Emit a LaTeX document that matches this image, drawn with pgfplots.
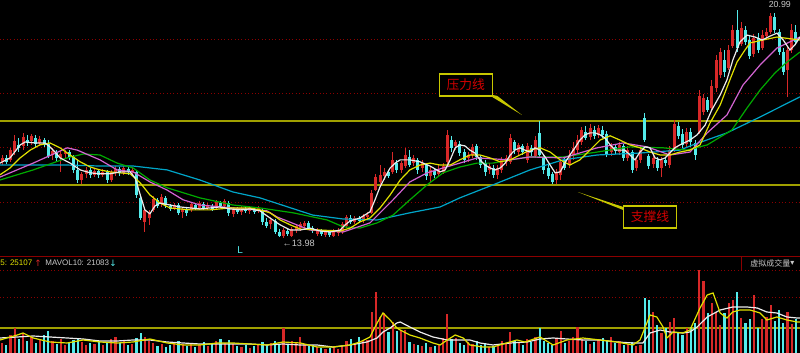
\documentclass[border=0pt]{standalone}
\usepackage{pgfplots}
\usepackage{pgfplotstable}
\pgfplotsset{compat=1.18}
\usepackage{fontspec}
\setmainfont{Liberation Sans}
\newfontfamily\cjk{Noto Sans CJK SC}
\newfontfamily\djv{DejaVu Sans}
\definecolor{kred}{RGB}{215,40,40}
\definecolor{kcyan}{RGB}{84,235,235}
\definecolor{gridred}{RGB}{140,0,0}
\definecolor{lineyel}{RGB}{160,160,0}
\definecolor{ma5}{RGB}{235,235,235}
\definecolor{ma10}{RGB}{225,225,0}
\definecolor{ma20}{RGB}{210,100,210}
\definecolor{ma30}{RGB}{0,170,0}
\definecolor{ma60}{RGB}{0,165,200}
\definecolor{boxyel}{RGB}{200,200,0}
\definecolor{txtred}{RGB}{210,0,0}
\definecolor{txtgray}{RGB}{200,200,200}

\pgfplotstableread{
i o h l c v
0 16.32 16.53 16.22 16.44 10
1 16.44 16.53 16.25 16.32 8
2 16.38 16.75 16.32 16.68 18
3 16.62 17.15 16.53 16.96 25
4 16.84 17.05 16.62 16.75 14
5 16.81 17.21 16.68 17.08 20
6 16.99 17.15 16.81 16.90 12
7 16.96 17.18 16.84 17.12 16
8 17.05 17.15 16.78 16.87 10
9 16.90 17.12 16.81 17.02 14
10 16.99 17.05 16.78 16.84 18
11 16.87 16.99 16.44 16.50 22
12 16.53 16.75 16.38 16.65 12
13 16.62 16.68 16.35 16.44 9
14 16.44 16.65 16.01 16.56 14
15 16.56 16.68 16.44 16.62 8
16 16.62 16.68 16.38 16.47 10
17 16.47 16.53 15.98 16.07 13
18 16.07 16.38 15.67 15.76 15
19 15.76 16.01 15.64 15.95 11
20 15.95 16.16 15.82 16.07 8
21 16.07 16.13 15.82 15.92 10
22 15.92 16.13 15.85 16.04 9
23 16.04 16.10 15.82 15.92 12
24 15.92 16.10 15.85 16.01 8
25 16.01 16.07 15.67 15.76 11
26 15.76 16.07 15.70 16.01 14
27 15.98 16.19 15.88 16.10 16
28 16.10 16.16 15.88 15.98 10
29 15.98 16.19 15.92 16.13 12
30 16.10 16.16 15.92 16.01 8
31 16.01 16.13 15.95 16.07 9
32 16.01 16.07 15.21 15.30 15
33 15.21 15.27 14.53 14.59 20
34 14.47 14.90 14.16 14.84 16
35 14.59 14.84 14.38 14.78 12
36 14.84 15.27 14.78 15.18 10
37 15.15 15.21 14.90 14.96 7
38 15.02 15.33 14.93 15.24 9
39 15.21 15.27 14.90 14.99 6
40 14.96 15.02 14.81 14.87 8
41 14.90 15.05 14.84 14.99 10
42 14.99 15.05 14.68 14.75 12
43 14.78 14.93 14.59 14.87 9
44 14.87 14.93 14.65 14.75 7
45 14.84 15.08 14.78 15.02 10
46 14.99 15.05 14.84 14.90 6
47 14.90 15.12 14.84 15.05 8
48 15.02 15.08 14.84 14.90 11
49 14.90 15.05 14.84 14.99 7
50 14.96 15.02 14.81 14.87 9
51 14.90 15.15 14.84 15.08 12
52 15.05 15.12 14.90 14.96 14
53 14.96 15.18 14.90 15.12 10
54 15.05 15.12 14.65 14.75 13
55 14.72 14.93 14.62 14.87 9
56 14.87 14.93 14.72 14.78 7
57 14.78 14.96 14.68 14.90 6
58 14.87 14.93 14.75 14.81 8
59 14.81 14.96 14.72 14.90 5
60 14.87 14.93 14.72 14.78 7
61 14.81 14.96 14.75 14.90 9
62 14.84 14.90 14.38 14.47 11
63 14.47 14.59 14.28 14.35 8
64 14.41 14.62 14.25 14.53 10
65 14.50 14.56 14.10 14.16 12
66 14.16 14.25 14.01 14.04 9
67 14.04 14.28 13.98 14.22 25
68 14.19 14.28 14.04 14.10 8
69 14.04 14.32 14.01 14.25 12
70 14.22 14.41 14.13 14.35 10
71 14.28 14.47 14.19 14.41 16
72 14.35 14.50 14.25 14.44 9
73 14.44 14.50 14.22 14.28 7
74 14.28 14.35 14.13 14.19 8
75 14.10 14.28 14.04 14.22 6
76 14.19 14.25 14.04 14.10 5
77 14.07 14.22 14.01 14.16 4
78 14.16 14.22 14.01 14.07 5
79 14.04 14.25 14.01 14.19 6
80 14.13 14.28 14.04 14.22 4
81 14.16 14.47 14.10 14.41 7
82 14.35 14.68 14.28 14.62 12
83 14.59 14.68 14.41 14.47 14
84 14.47 14.65 14.41 14.59 10
85 14.59 14.65 14.44 14.50 16
86 14.50 14.72 14.44 14.65 12
87 14.62 14.78 14.56 14.68 13
88 14.75 15.45 14.72 15.36 41
89 15.45 15.95 15.42 15.85 61
90 15.70 16.22 15.61 15.92 36
91 15.88 16.13 15.76 16.01 40
92 16.01 16.07 15.82 15.88 21
93 16.01 16.62 15.95 16.38 31
94 16.28 16.38 15.98 16.07 22
95 16.07 16.35 15.98 16.28 23
96 16.19 16.75 16.13 16.53 23
97 16.47 16.68 16.16 16.22 11
98 16.28 16.53 16.19 16.44 9
99 16.38 16.44 15.95 16.07 8
100 16.13 16.38 16.01 16.28 7
101 16.22 16.28 15.76 15.88 10
102 15.88 16.16 15.70 16.07 6
103 16.04 16.13 15.82 15.92 7
104 15.95 16.22 15.88 16.07 8
105 16.01 16.28 15.95 16.19 15
106 16.32 17.30 16.25 17.15 39
107 16.99 17.12 16.62 16.75 14
108 16.81 16.99 16.68 16.93 15
109 16.87 16.96 16.50 16.59 10
110 16.62 16.72 16.28 16.38 8
111 16.44 16.62 16.32 16.53 11
112 16.53 16.87 16.44 16.78 9
113 16.81 16.87 16.38 16.47 12
114 16.47 16.53 16.13 16.22 8
115 16.28 16.38 15.88 16.01 10
116 16.07 16.28 15.95 16.19 6
117 16.13 16.22 15.82 15.92 7
118 15.92 16.22 15.79 16.13 9
119 16.07 16.47 15.98 16.38 12
120 16.32 16.53 16.19 16.44 10
121 16.32 17.18 16.25 17.05 21
122 16.93 16.99 16.56 16.68 12
123 16.62 16.90 16.50 16.84 10
124 16.81 16.87 16.53 16.62 8
125 16.38 16.90 16.28 16.81 14
126 16.75 16.84 16.50 16.62 11
127 16.50 17.12 16.44 16.99 16
128 17.21 17.58 16.44 16.53 25
129 16.47 16.53 15.95 16.07 12
130 16.13 16.22 15.79 15.88 10
131 15.95 16.01 15.64 15.70 8
132 15.76 16.10 15.64 16.01 14
133 15.92 16.38 15.76 16.32 22
134 16.38 16.44 16.07 16.13 10
135 16.22 16.68 16.13 16.53 12
136 16.50 16.93 16.38 16.75 16
137 16.68 17.15 16.59 16.99 26
138 16.93 17.39 16.84 17.30 14
139 17.24 17.42 16.99 17.05 12
140 17.08 17.48 16.99 17.36 9
141 17.30 17.42 17.02 17.12 11
142 17.15 17.45 17.05 17.36 13
143 17.30 17.42 17.05 17.15 15
144 17.18 17.27 16.47 16.56 12
145 16.62 16.90 16.50 16.81 16
146 16.78 16.84 16.56 16.65 10
147 16.62 16.93 16.53 16.84 12
148 16.81 16.87 16.35 16.44 8
149 16.44 16.81 16.35 16.68 9
150 16.62 16.68 15.98 16.07 11
151 16.13 16.47 16.04 16.38 7
152 16.38 16.81 16.28 16.68 8
153 17.67 17.82 16.93 16.99 55
154 16.50 16.56 16.10 16.19 53
155 16.25 16.53 16.13 16.44 41
156 16.38 16.47 16.04 16.13 28
157 16.13 16.47 15.85 16.38 20
158 16.38 16.47 16.19 16.28 25
159 16.22 16.81 16.13 16.68 31
160 16.68 17.61 16.62 17.48 35
161 17.42 17.55 17.02 17.12 21
162 17.18 17.33 16.75 16.84 18
163 16.87 17.36 16.78 17.24 25
164 17.24 17.36 16.78 16.93 26
165 16.90 16.99 16.38 16.53 30
166 17.24 18.53 17.18 18.35 83
167 17.86 18.41 17.76 18.28 72
168 18.22 18.32 17.86 17.92 40
169 17.98 18.84 17.92 18.65 50
170 18.59 19.61 18.47 19.45 41
171 18.99 19.82 18.90 19.70 28
172 19.45 19.76 18.93 19.08 40
173 19.21 19.92 19.15 19.76 50
174 19.88 20.53 19.82 20.38 53
175 20.38 20.99 19.70 19.82 61
176 19.95 20.62 19.88 20.44 35
177 20.38 20.50 19.92 20.01 30
178 20.07 20.19 19.48 19.58 34
179 19.64 20.25 19.55 20.13 58
180 20.13 20.28 19.67 19.76 25
181 19.82 20.38 19.76 20.22 34
182 20.19 20.44 20.07 20.32 36
183 20.32 20.90 20.25 20.81 48
184 20.78 20.90 20.28 20.38 32
185 20.32 20.41 19.61 19.70 43
186 19.70 19.82 18.99 19.08 30
187 19.15 19.88 18.32 19.76 41
188 19.76 20.56 19.67 20.38 29
189 20.32 20.53 19.92 20.01 34
}\kdata

\pgfplotsset{
  kaxis/.style={scale only axis, width=400pt, xmin=-0.5, xmax=190,
    axis line style={draw=none}, xtick=\empty, ytick=\empty, clip=true},
  upf/.style={x filter/.expression={\thisrow{c}>=\thisrow{o} ? x : nan}},
  dnf/.style={x filter/.expression={\thisrow{c}<\thisrow{o} ? x : nan}},
}
\tikzset{gridln/.style={gridred, line width=0.5pt, dash pattern=on 0.5pt off 1.2pt}}

\begin{document}
\begin{tikzpicture}
\useasboundingbox (0pt,0pt) rectangle (400pt,176.5pt);
\fill[black] (0pt,0pt) rectangle (400pt,176.5pt);

% ---------------- price pane ----------------
\begin{axis}[kaxis, at={(0pt,48pt)}, anchor=south west, height=128.5pt,
  ymin=13.39, ymax=21.30]
\draw[gridln] (axis cs:-0.5,20.07) -- (axis cs:190,20.07);
\draw[gridln] (axis cs:-0.5,18.41) -- (axis cs:190,18.41);
\draw[gridln] (axis cs:-0.5,16.75) -- (axis cs:190,16.75);
\draw[gridln] (axis cs:-0.5,15.08) -- (axis cs:190,15.08);
\draw[lineyel, line width=1pt] (axis cs:-0.5,17.58) -- (axis cs:190,17.58);
\draw[lineyel, line width=1pt] (axis cs:-0.5,15.61) -- (axis cs:190,15.61);

% wicks (low to high)
\addplot[quiver={u=0, v=\thisrow{h}-\thisrow{l}}, draw=kred, line width=0.5pt,
  mark=none, forget plot, upf] table[x=i, y=l] {\kdata};
\addplot[quiver={u=0, v=\thisrow{h}-\thisrow{l}}, draw=kcyan, line width=0.5pt,
  mark=none, forget plot, dnf] table[x=i, y=l] {\kdata};
% bodies (open to close)
\addplot[quiver={u=0, v=\thisrow{c}-\thisrow{o}}, draw=kred, line width=1.5pt,
  mark=none, forget plot, upf] table[x=i, y=o] {\kdata};
\addplot[quiver={u=0, v=\thisrow{c}-\thisrow{o}}, draw=kcyan, line width=1.5pt,
  mark=none, forget plot, dnf] table[x=i, y=o] {\kdata};

% moving averages
\addplot[ma60, line width=0.6pt] coordinates {(-0.5,16.22)(7.4,16.22)(15.5,16.22)(23.3,16.19)(31.2,16.19)(39.3,16.07)(47.1,15.76)(55.0,15.39)(61.4,15.21)(74.0,14.68)(81.2,14.56)(89.3,14.53)(97.1,14.75)(104.3,14.93)(109.0,15.21)(116.9,15.61)(125.7,16.07)(133.6,16.38)(141.7,16.53)(151.9,16.59)(161.4,16.68)(164.5,16.84)(172.6,17.21)(180.5,17.70)(190.0,18.32)};
\addplot[ma30, line width=0.6pt] coordinates {(-0.5,15.76)(7.4,16.07)(15.5,16.44)(19.3,16.56)(23.3,16.53)(27.4,16.28)(31.2,16.13)(35.2,15.76)(39.3,15.52)(47.1,15.21)(55.0,14.99)(61.4,14.90)(69.3,14.75)(77.4,14.53)(81.2,14.32)(85.2,14.28)(89.3,14.44)(93.1,14.68)(97.1,15.15)(101.2,15.61)(105.0,15.98)(109.0,16.16)(113.1,16.28)(116.9,16.28)(121.0,16.38)(125.7,16.47)(133.6,16.47)(141.7,16.62)(149.5,16.78)(157.4,16.75)(163.1,16.68)(167.9,16.84)(173.8,17.30)(177.4,17.98)(180.5,18.53)(184.0,19.05)(186.9,19.39)(190.0,19.70)};
\addplot[ma20, line width=0.6pt] coordinates {(-0.5,15.85)(7.4,16.28)(15.5,16.75)(17.9,16.68)(23.3,16.38)(27.4,16.07)(31.2,16.01)(35.2,15.70)(39.3,15.45)(43.1,15.15)(47.1,14.99)(55.0,14.90)(63.1,14.81)(65.5,14.62)(73.3,14.22)(81.2,14.16)(87.6,14.44)(93.1,15.15)(97.1,15.70)(101.2,15.98)(105.0,16.13)(109.0,16.28)(113.1,16.44)(116.9,16.41)(121.0,16.38)(125.7,16.47)(133.6,16.44)(141.7,16.75)(147.9,16.90)(153.6,16.78)(159.0,16.53)(163.8,16.62)(167.9,17.21)(172.6,17.76)(176.4,18.68)(180.5,19.30)(184.5,19.82)(190.0,20.16)};
\addplot[ma10, line width=0.6pt] coordinates {(-0.5,15.92)(1.9,16.13)(4.3,16.44)(6.7,16.68)(9.0,16.84)(11.4,16.90)(13.8,16.75)(16.2,16.53)(18.6,16.32)(21.0,16.16)(23.3,16.07)(25.7,16.01)(28.1,15.98)(30.5,15.95)(32.9,15.67)(35.2,15.30)(37.6,15.05)(40.0,14.90)(42.4,14.87)(44.8,14.84)(49.5,14.84)(54.3,14.90)(59.0,14.90)(61.4,14.84)(63.8,14.75)(66.2,14.53)(68.6,14.38)(71.0,14.25)(75.7,14.22)(80.5,14.19)(82.9,14.28)(85.2,14.47)(87.6,14.59)(90.0,14.90)(92.4,15.30)(94.8,15.76)(97.1,16.07)(99.5,16.22)(101.9,16.28)(104.3,16.22)(106.7,16.22)(109.0,16.38)(111.4,16.53)(113.8,16.53)(116.2,16.44)(118.6,16.32)(121.0,16.38)(123.3,16.53)(125.7,16.68)(128.1,16.75)(130.5,16.62)(132.9,16.38)(135.2,16.22)(137.6,16.38)(140.0,16.68)(142.4,16.99)(144.8,17.12)(147.1,16.99)(149.5,16.84)(151.9,16.75)(154.3,16.62)(156.7,16.53)(159.0,16.53)(161.4,16.62)(163.8,16.68)(166.2,16.84)(168.6,17.52)(171.0,18.07)(173.3,18.84)(175.0,19.39)(176.9,19.76)(178.1,19.98)(181.2,20.07)(184.5,20.16)(190.0,20.07)};
\addplot[ma5, line width=0.6pt] coordinates {(-0.5,16.28)(1.9,16.44)(4.3,16.84)(5.5,16.93)(7.9,16.90)(10.2,16.90)(11.4,16.78)(12.6,16.62)(13.8,16.44)(16.2,16.28)(18.6,16.07)(21.0,15.98)(23.3,15.95)(25.7,15.95)(28.1,16.01)(30.5,16.01)(31.7,15.82)(32.9,15.30)(34.0,14.84)(35.2,14.72)(36.4,14.96)(37.6,15.05)(40.0,14.99)(42.4,14.93)(44.8,14.90)(47.1,14.87)(49.5,14.90)(51.9,14.93)(54.3,14.87)(56.7,14.84)(59.0,14.87)(61.4,14.81)(63.8,14.59)(66.2,14.38)(68.6,14.22)(71.0,14.22)(73.3,14.28)(75.7,14.19)(78.1,14.16)(80.5,14.22)(81.7,14.38)(82.9,14.50)(85.2,14.59)(87.6,14.78)(88.8,15.15)(90.0,15.55)(91.2,15.85)(92.4,16.13)(93.6,16.28)(94.8,16.38)(97.1,16.38)(99.5,16.32)(101.9,16.19)(104.3,16.01)(105.5,16.07)(106.7,16.38)(107.9,16.75)(109.0,16.84)(110.2,16.81)(111.4,16.68)(112.6,16.59)(113.8,16.38)(115.0,16.22)(116.2,16.13)(117.4,16.07)(118.6,16.13)(119.8,16.28)(121.0,16.53)(122.1,16.68)(123.3,16.75)(124.5,16.68)(125.7,16.62)(126.9,16.75)(128.1,16.68)(129.3,16.47)(130.5,16.22)(131.7,15.98)(132.9,16.01)(134.0,16.28)(135.2,16.53)(136.4,16.75)(137.6,16.99)(138.8,17.15)(140.0,17.21)(141.2,17.21)(142.4,17.15)(143.6,17.05)(144.8,16.84)(146.0,16.68)(147.1,16.68)(148.3,16.68)(149.5,16.53)(150.7,16.38)(151.9,16.62)(153.1,16.78)(154.3,16.75)(155.5,16.44)(156.7,16.38)(157.9,16.44)(159.0,16.59)(160.2,16.75)(161.4,16.84)(163.8,16.99)(165.5,17.15)(167.4,17.45)(169.0,17.92)(171.0,18.38)(172.6,18.84)(174.0,19.45)(175.7,20.01)(177.4,20.22)(179.3,20.16)(181.0,20.07)(182.9,20.19)(184.5,20.28)(186.0,20.07)(187.6,19.76)(188.8,19.92)(190.0,20.16)};

% annotations
\fill[boxyel] (axis cs:115.5,18.41) -- (axis cs:117.9,18.35) -- (axis cs:123.8,17.76) -- cycle;
\fill[boxyel] (axis cs:147.9,14.93) -- (axis cs:149.0,14.78) -- (axis cs:137.1,15.39) -- cycle;
\node[draw=boxyel, fill=black, line width=0.7pt, minimum width=26.5pt, minimum height=11pt,
  inner sep=0pt, text=txtred, font=\cjk\fontsize{6.4}{7}\selectfont] at (axis cs:110.4,18.68) {压力线};
\node[draw=boxyel, fill=black, line width=0.7pt, minimum width=26.5pt, minimum height=11pt,
  inner sep=0pt, text=txtred, font=\cjk\fontsize{6.4}{7}\selectfont] at (axis cs:154.3,14.62) {支撑线};
\node[anchor=west, inner sep=0pt, text=txtgray, font=\fontsize{4.6}{5}\selectfont] at (axis cs:66.7,13.82) {←13.98};
\node[inner sep=0pt, text=txtgray, font=\fontsize{4.4}{5}\selectfont] at (axis cs:185.2,21.15) {20.99};
\node[inner sep=0pt, text=kcyan, font=\fontsize{5}{5}\selectfont] at (axis cs:56.7,13.61) {L};
\end{axis}

% ---------------- volume pane ----------------
\begin{axis}[kaxis, at={(0pt,0pt)}, anchor=south west, height=48.5pt,
  ymin=0, ymax=97]
\draw[gridln] (axis cs:-0.5,82.3) -- (axis cs:190,82.3);
\draw[gridln] (axis cs:-0.5,55.3) -- (axis cs:190,55.3);
\draw[lineyel, line width=1pt] (axis cs:-0.5,25) -- (axis cs:190,25);
\addplot[ycomb, draw=kred, line width=1.1pt, forget plot, upf] table[x=i, y=v] {\kdata};
\addplot[ycomb, draw=kcyan, line width=1.1pt, forget plot, dnf] table[x=i, y=v] {\kdata};
\addplot[ma5, line width=0.6pt] coordinates {(-0.5,15)(3.6,16)(7.4,17)(11.4,16)(15.5,15)(19.3,14)(23.3,12)(27.4,12)(31.2,13)(35.2,13)(39.3,11)(43.1,10)(47.1,9)(51.2,9)(55.0,9)(59.0,9)(63.1,8)(66.9,9)(71.0,8)(75.0,8)(78.8,6)(82.9,8)(86.9,11)(89.3,15)(90.7,21)(92.4,25)(94.0,30)(94.8,31)(97.1,26)(99.5,21)(102.6,16)(106.0,13)(109.0,13)(111.4,13)(113.8,10)(116.9,8)(121.0,10)(125.0,11)(128.1,14)(131.2,15)(134.5,14)(138.3,13)(142.4,13)(146.4,11)(150.2,10)(152.6,10)(154.3,20)(156.7,23)(159.0,21)(162.1,20)(163.8,21)(165.5,26)(167.9,36)(171.0,43)(174.0,46)(177.4,46)(179.8,45)(182.1,41)(184.5,40)(186.9,36)(189.3,35)(190,35)};
\addplot[ma10, line width=0.6pt] coordinates {(-0.5,13)(3.6,18)(5.0,20)(7.4,15)(11.4,11)(15.5,10)(19.3,13)(23.3,11)(27.4,10)(31.2,11)(35.2,14)(39.3,10)(43.1,8)(47.1,8)(51.2,10)(55.0,10)(59.0,9)(63.1,8)(66.9,11)(71.0,10)(75.0,6)(78.8,6)(82.9,8)(85.2,11)(87.6,16)(89.3,30)(90.7,40)(92.4,33)(94.0,25)(94.8,23)(97.1,18)(99.5,15)(102.6,10)(104.3,8)(106.0,13)(107.9,18)(109.8,15)(111.4,8)(114.5,6)(116.9,6)(119.3,9)(122.6,13)(124.5,11)(128.1,16)(131.2,8)(134.5,13)(138.3,15)(142.4,13)(146.4,11)(150.2,8)(151.9,13)(154.3,38)(155.9,36)(157.4,26)(158.3,15)(159.8,21)(162.1,20)(163.8,23)(166.2,45)(167.9,58)(169.3,60)(171.0,40)(172.6,35)(174.0,41)(175.7,43)(178.1,43)(180.5,40)(182.1,33)(184.5,36)(186.9,33)(189.3,31)(190,31)};
\end{axis}

% pane separator and header
\draw[gridred, line width=0.8pt] (0pt,48.3pt) -- (400pt,48.3pt);
\draw[gridred, line width=0.5pt] (370.5pt,41.2pt) -- (370.5pt,48.3pt);
\node[anchor=west, inner sep=0pt, text=ma10, font=\fontsize{4}{4}\selectfont] at (0pt,45pt) {5: 25107};
\node[anchor=west, inner sep=0pt, text=kred, font=\djv\fontsize{4.4}{4}\selectfont] at (17pt,45pt) {↑};
\node[anchor=west, inner sep=0pt, text=txtgray, font=\fontsize{4}{4}\selectfont] at (22.5pt,45pt) {MAVOL10: 21083};
\node[anchor=west, inner sep=0pt, text=kcyan, font=\djv\fontsize{4.4}{4}\selectfont] at (54.5pt,45pt) {↓};
\node[anchor=west, inner sep=0pt, text=txtgray, font=\cjk\fontsize{4}{4}\selectfont] at (375pt,44.8pt) {虚拟成交量};
\node[anchor=west, inner sep=0pt, text=txtgray, font=\djv\fontsize{4}{4}\selectfont] at (395pt,45pt) {▾};
\end{tikzpicture}
\end{document}
